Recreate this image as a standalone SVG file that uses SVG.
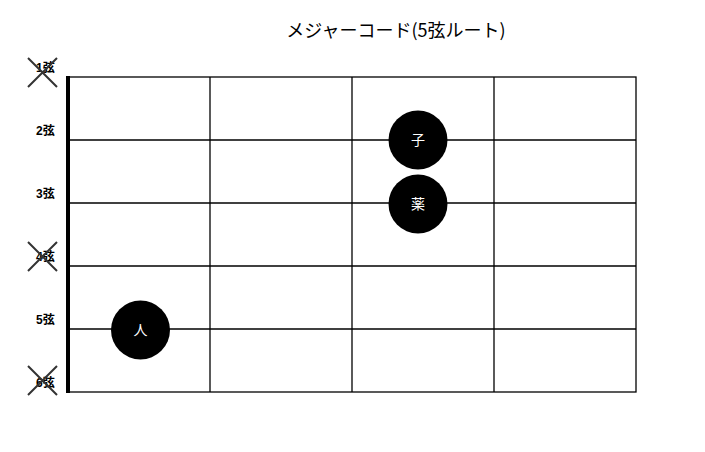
<svg xmlns="http://www.w3.org/2000/svg" width="705" height="452" viewBox="0 0 705 452">
<style>
.grid{stroke:#000;stroke-width:1.3;fill:none}
.nut{stroke:#000;stroke-width:4}
.lbl{font-family:"Liberation Sans","Noto Sans CJK JP",sans-serif;font-size:12px;font-weight:bold;fill:#000}
.x{stroke:#333;stroke-width:2}
.dot{fill:#000}
.dt{font-family:"Noto Sans CJK JP",sans-serif;font-size:14px;fill:#fff;text-anchor:middle}
.title{font-family:"Noto Sans CJK JP",sans-serif;font-size:18px;fill:#000;text-anchor:middle}
</style>
<rect width="705" height="452" fill="#fff"/>
<text class="title" x="396" y="37">メジャーコード(5弦ルート)</text>
<g id="connectors">
<rect class="grid" x="68" y="77" width="568" height="315"/>
<line class="grid" x1="68" y1="140" x2="636" y2="140"/>
<line class="grid" x1="68" y1="203" x2="636" y2="203"/>
<line class="grid" x1="68" y1="266" x2="636" y2="266"/>
<line class="grid" x1="68" y1="329" x2="636" y2="329"/>
<line class="grid" x1="210" y1="77" x2="210" y2="392"/>
<line class="grid" x1="352" y1="77" x2="352" y2="392"/>
<line class="grid" x1="494" y1="77" x2="494" y2="392"/>
<line class="nut" x1="68" y1="76" x2="68" y2="393"/>
</g>
<g id="labels">
<text class="lbl" x="36" y="72">1弦</text>
<text class="lbl" x="36" y="135">2弦</text>
<text class="lbl" x="36" y="198">3弦</text>
<text class="lbl" x="36" y="261">4弦</text>
<text class="lbl" x="36" y="324">5弦</text>
<text class="lbl" x="36" y="387">6弦</text>
</g>
<g id="mutes">
<path class="x" d="M28 58L57 87M57 58L28 87"/>
<path class="x" d="M28 242L57 271M57 242L28 271"/>
<path class="x" d="M28 366L57 395M57 366L28 395"/>
</g>
<g id="node-ko">
<circle class="dot" cx="418" cy="140" r="29.5"/>
<text class="dt" x="418" y="145">子</text>
</g>
<g id="node-yaku">
<circle class="dot" cx="418" cy="204" r="29.5"/>
<text class="dt" x="418" y="209">薬</text>
</g>
<g id="node-hito">
<circle class="dot" cx="140.5" cy="330" r="29.5"/>
<text class="dt" x="140.5" y="335">人</text>
</g>
</svg>
